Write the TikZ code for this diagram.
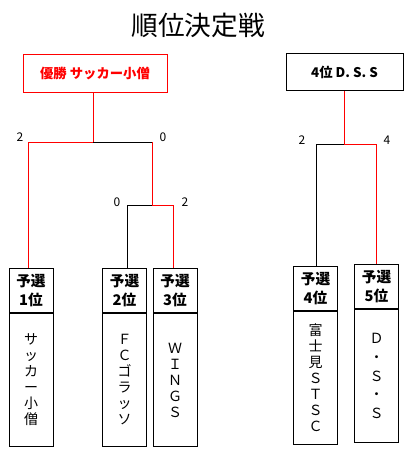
\documentclass[tikz,border=0pt]{standalone}
\usepackage{fontspec}
\usetikzlibrary{positioning}
\newfontfamily\jp{Noto Sans CJK JP}
\pgfdeclarelayer{edgelayer}
\pgfdeclarelayer{nodelayer}
\pgfsetlayers{edgelayer,nodelayer,main}
\tikzstyle{edge}=[draw=black, line width=0.75pt]
\tikzstyle{rededge}=[draw=red, line width=0.75pt]
\tikzstyle{champ}=[rectangle, draw=red, text=red, line width=0.75pt, minimum width=108pt, minimum height=29pt, font=\jp\bfseries\fontsize{10}{12}\selectfont]
\tikzstyle{fourth}=[rectangle, draw=black, line width=0.75pt, minimum width=87.75pt, minimum height=27pt, font=\jp\bfseries\fontsize{10}{12}\selectfont]
\tikzstyle{seed}=[rectangle, draw=black, fill=white, line width=0.75pt, minimum width=33pt, minimum height=33pt, inner sep=0pt, align=center, font=\jp\bfseries\fontsize{11}{14}\selectfont]
\tikzstyle{team}=[rectangle, draw=black, fill=white, line width=0.75pt, minimum width=33pt, minimum height=99.75pt, inner sep=0pt, align=center, font=\jp\fontsize{10.5}{12}\selectfont]
\tikzstyle{score}=[inner sep=0pt, font=\jp\fontsize{9}{9}\selectfont]

\begin{document}
\begin{tikzpicture}[x=0.75pt, y=-0.75pt]
	\useasboundingbox (0, 0) rectangle (413, 453);
	\begin{pgfonlayer}{nodelayer}
		\node [font=\jp\fontsize{20}{24}\selectfont] (title) at (198, 25) {順位決定戦};
		\node [style=champ] (win) at (95, 73.5) {優勝 サッカー小僧};
		\node [style=fourth] (dss) at (344.5, 72) {4位 D. S. S};
		% 予選 seeds
		\node [style=seed, anchor=north] (s1) at (31, 268) {予選\\1位};
		\node [style=team, below=0pt of s1] (t1) {サ\\ッ\\カ\\ー\\小\\僧};
		\node [style=seed, anchor=north] (s2) at (124.5, 268) {予選\\2位};
		\node [style=team, below=0pt of s2] (t2) {Ｆ\\Ｃ\\ゴ\\ラ\\ッ\\ソ};
		\node [style=seed, anchor=north] (s3) at (175, 268) {予選\\3位};
		\node [style=team, below=0pt of s3] (t3) {Ｗ\\Ｉ\\Ｎ\\Ｇ\\Ｓ};
		\node [style=seed, anchor=north] (s4) at (315.5, 266) {予選\\4位};
		\node [style=team, below=0pt of s4] (t4) {富\\士\\見\\Ｓ\\Ｔ\\Ｓ\\Ｃ};
		\node [style=seed, anchor=north] (s5) at (376.5, 264) {予選\\5位};
		\node [style=team, below=0pt of s5] (t5) {Ｄ\\[2pt]・\\[2pt]Ｓ\\[2pt]・\\[2pt]Ｓ};
		% scores
		\node [style=score] (sc1) at (20, 137) {2};
		\node [style=score] (sc2) at (163, 137) {0};
		\node [style=score] (sc3) at (117, 202) {0};
		\node [style=score] (sc4) at (185, 202) {2};
		\node [style=score] (sc5) at (302, 140) {2};
		\node [style=score] (sc6) at (387, 140) {4};
	\end{pgfonlayer}
	\coordinate (j1) at (93, 142);
	\coordinate (j1l) at (28, 142);
	\coordinate (j1r) at (152, 142);
	\coordinate (j2) at (152, 205);
	\coordinate (j2l) at (127, 205);
	\coordinate (j2r) at (173, 205);
	\coordinate (j3) at (344, 144);
	\coordinate (j3l) at (316, 144);
	\coordinate (j3r) at (376, 144);
	\begin{pgfonlayer}{edgelayer}
		\draw [style=rededge] (win.south -| j1) to (j1) to (j1l) to (j1l |- s1.north);
		\draw [style=edge] (j1) to (j1r);
		\draw [style=rededge] (j1r) to (j2) to (j2r) to (j2r |- s3.north);
		\draw [style=edge] (j2) to (j2l) to (j2l |- s2.north);
		\draw [style=rededge] (dss.south -| j3) to (j3) to (j3r) to (j3r |- s5.north);
		\draw [style=edge] (j3) to (j3l) to (j3l |- s4.north);
	\end{pgfonlayer}
\end{tikzpicture}
\end{document}
